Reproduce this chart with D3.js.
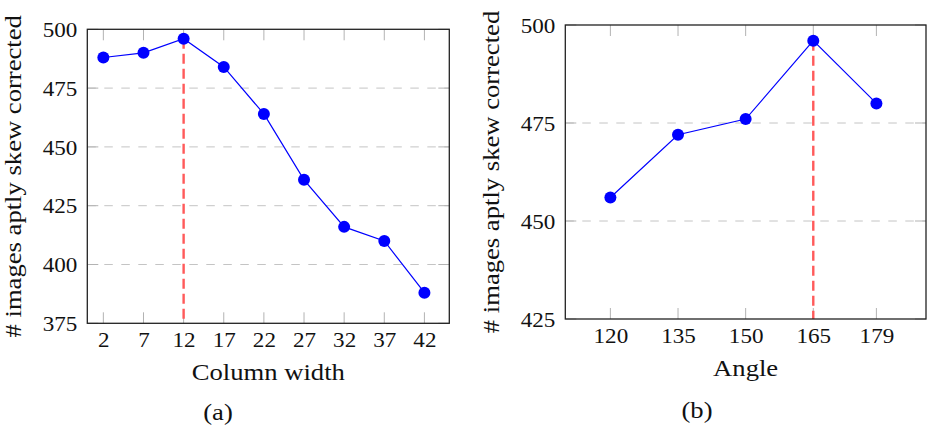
<!DOCTYPE html>
<html>
<head>
<meta charset="utf-8">
<script src="https://cdn.jsdelivr.net/npm/d3@7"></script>
<style>
  html, body { margin: 0; padding: 0; background: #fff; }
  svg { display: block; }
</style>
</head>
<body>
<svg id="chart" width="927" height="425"></svg>
<script>
// (a) column width
const widthValues = [2, 7, 12, 17, 22, 27, 32, 37, 42];
const widthCorrected = [488, 490, 496, 484, 464, 436, 416, 410, 388];
const widthYTicks = [375, 400, 425, 450, 475, 500];
const widthBest = 12;

// (b) angle
const angleValues = [120, 135, 150, 165, 179];
const angleCorrected = [456, 472, 476, 496, 480];
const angleYTicks = [425, 450, 475, 500];
const angleBest = 165;

const yLabel = "# images aptly skew corrected";

const svg = d3.select("#chart");

const fontName = "'Liberation Serif'";
const tickColor = "#b3b3b3";
const gridColor = "#c4c4c4";
const lineColor = "#0000ff";
const markColor = "#ff5a5a";
// the reference text is a bit wider than Liberation Serif, stretch it horizontally
const tickStretch = 1.1;
const labelStretch = 1.11;

function drawPanel(cfg) {
    const { left, right, top, bottom } = cfg.box;
    const g = svg.append("g");

    const x = d3.scaleLinear().domain(cfg.xDomain).range([left, right]);
    const y = d3.scaleLinear().domain(d3.extent(cfg.yTicks)).range([bottom, top]);

    // horizontal dashed grid lines (interior ticks only)
    g.append("g")
        .selectAll("line")
        .data(cfg.yTicks.slice(1, -1))
        .join("line")
        .attr("x1", left)
        .attr("x2", right)
        .attr("y1", (d) => y(d))
        .attr("y2", (d) => y(d))
        .attr("stroke", gridColor)
        .attr("stroke-width", 1)
        .attr("stroke-dasharray", "8.5 8.5");

    // inner tick marks on all four sides
    const tickLen = 11;
    const ticks = g.append("g").attr("stroke", tickColor).attr("stroke-width", 1);
    cfg.xValues.forEach((v) => {
        ticks.append("line").attr("x1", x(v)).attr("x2", x(v)).attr("y1", bottom).attr("y2", bottom - tickLen);
        ticks.append("line").attr("x1", x(v)).attr("x2", x(v)).attr("y1", top).attr("y2", top + tickLen);
    });
    cfg.yTicks.forEach((v) => {
        ticks.append("line").attr("x1", left).attr("x2", left + tickLen).attr("y1", y(v)).attr("y2", y(v));
        ticks.append("line").attr("x1", right).attr("x2", right - tickLen).attr("y1", y(v)).attr("y2", y(v));
    });

    // red dashed marker at the best value
    const bestIdx = cfg.xValues.indexOf(cfg.best);
    g.append("line")
        .attr("x1", x(cfg.best))
        .attr("x2", x(cfg.best))
        .attr("y1", y(cfg.yValues[bestIdx]))
        .attr("y2", bottom)
        .attr("stroke", markColor)
        .attr("stroke-width", 2.4)
        .attr("stroke-dasharray", "10 5");

    // frame
    g.append("rect")
        .attr("x", left)
        .attr("y", top)
        .attr("width", right - left)
        .attr("height", bottom - top)
        .attr("fill", "none")
        .attr("stroke", "#222")
        .attr("stroke-width", 1.3);

    // x axis labels (no domain, no tick lines)
    const xAxis = g.append("g")
        .attr("transform", `translate(0,${bottom})`)
        .call(d3.axisBottom(x).tickValues(cfg.xValues).tickSize(0).tickPadding(0).tickFormat(d3.format("d")))
        .attr("font-family", null)
        .attr("font-size", null);
    xAxis.select(".domain").remove();
    xAxis.selectAll("text")
        .attr("y", cfg.xTickBaseline - bottom)
        .attr("dy", null)
        .attr("transform", `scale(${tickStretch},1)`)
        .style("font-family", fontName)
        .style("font-size", "21px")
        .attr("fill", "#111");

    const yAxis = g.append("g")
        .attr("transform", `translate(${left},0)`)
        .call(d3.axisLeft(y).tickValues(cfg.yTicks).tickSize(0).tickPadding(10).tickFormat(d3.format("d")))
        .attr("font-family", null)
        .attr("font-size", null);
    yAxis.select(".domain").remove();
    yAxis.selectAll("text")
        .attr("x", -10 / tickStretch)
        .attr("dy", "0.34em")
        .attr("transform", `scale(${tickStretch},1)`)
        .style("font-family", fontName)
        .style("font-size", "21px")
        .attr("fill", "#111");

    // data line and markers
    const pts = cfg.xValues.map((v, i) => [v, cfg.yValues[i]]);
    g.append("path")
        .datum(pts)
        .attr("fill", "none")
        .attr("stroke", lineColor)
        .attr("stroke-width", 1.2)
        .attr("d", d3.line().x((d) => x(d[0])).y((d) => y(d[1])));

    g.append("g")
        .selectAll("circle")
        .data(pts)
        .join("circle")
        .attr("cx", (d) => x(d[0]))
        .attr("cy", (d) => y(d[1]))
        .attr("r", 6)
        .attr("fill", lineColor);

    // axis titles
    g.append("text")
        .attr("transform", `translate(${(left + right) / 2},${cfg.xTitleBaseline}) scale(${labelStretch},1)`)
        .attr("text-anchor", "middle")
        .style("font-family", fontName)
        .style("font-size", "24px")
        .attr("fill", "#111")
        .text(cfg.xTitle);

    g.append("text")
        .attr("transform", `translate(${cfg.yTitleX},${(top + bottom) / 2}) rotate(-90) scale(${labelStretch},1)`)
        .attr("text-anchor", "middle")
        .style("font-family", fontName)
        .style("font-size", "24px")
        .attr("fill", "#111")
        .text(yLabel);

    // sub caption
    g.append("text")
        .attr("transform", `translate(${cfg.captionX},${cfg.captionY}) scale(${labelStretch},1)`)
        .attr("text-anchor", "middle")
        .style("font-family", fontName)
        .style("font-size", "24px")
        .attr("fill", "#111")
        .text(cfg.caption);
}

drawPanel({
    box: { left: 87.3, right: 449.3, top: 29.3, bottom: 323.3 },
    xDomain: [0, 45.1],
    xValues: widthValues,
    yValues: widthCorrected,
    yTicks: widthYTicks,
    best: widthBest,
    xTitle: "Column width",
    xTickBaseline: 347,
    xTitleBaseline: 380,
    yTitleX: 21,
    caption: "(a)",
    captionX: 218,
    captionY: 420
});

drawPanel({
    box: { left: 565.3, right: 926, top: 25, bottom: 319 },
    xDomain: [110, 190],
    xValues: angleValues,
    yValues: angleCorrected,
    yTicks: angleYTicks,
    best: angleBest,
    xTitle: "Angle",
    xTickBaseline: 343,
    xTitleBaseline: 376,
    yTitleX: 499,
    caption: "(b)",
    captionX: 697,
    captionY: 418
});
</script>
</body>
</html>
